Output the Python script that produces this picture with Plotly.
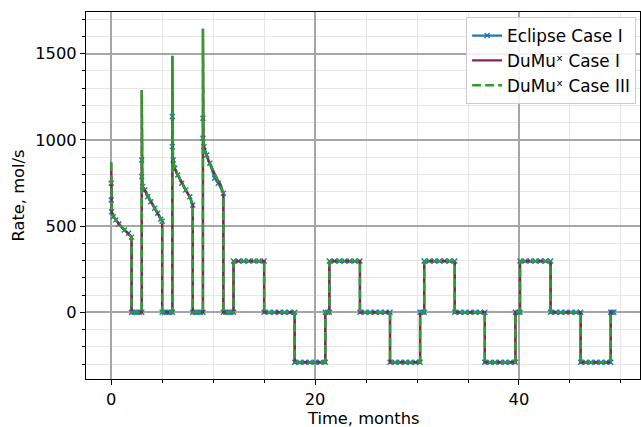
import plotly.graph_objects as go

# ---- DuMux (Case I & III) injection cycles: time [months], rate [mol/s]
cyc1_t = [0.0, 0.01, 0.03, 0.06, 0.15, 0.34, 0.6, 0.83, 1.2, 1.5, 1.75, 2.0]
cyc1_v = [870, 750, 640, 583, 565, 545, 525, 506, 486, 467, 450, 436]
cyc2_t = [3.0, 3.01, 3.03, 3.06, 3.1, 3.29, 3.58, 3.88, 4.27, 4.56, 4.86, 5.0]
cyc2_v = [1290, 1000, 820, 745, 729, 709, 670, 641, 603, 574, 540, 528]
cyc3_t = [6.0, 6.01, 6.03, 6.06, 6.1, 6.23, 6.53, 6.92, 7.31, 7.71, 8.0]
cyc3_v = [1488, 1150, 950, 890, 875, 835, 797, 748, 709, 670, 622]
cyc4_t = [9.0, 9.01, 9.03, 9.06, 9.1, 9.18, 9.37, 9.67, 10.06, 10.35, 10.75, 11.0]
cyc4_v = [1645, 1250, 1020, 975, 960, 940, 903, 864, 816, 777, 738, 685]

# ---- schedule after injection: switch times and the rate held in each interval
sched_t = [12, 15, 18, 21, 21.4, 24.4, 27.35, 30.3, 30.7, 33.7, 36.65, 39.65,
           40.1, 43.1, 46.05, 49.0, 49.3]
sched_v = [297, 0, -290, 0, 297, 0, -290, 0, 297, 0, -290, 0, 297, 0, -290, 0]

# ---- Eclipse report points (markers)
ecl_c1_t = [0.0, 0.0, 0.04, 0.2, 0.45, 0.75, 1.3, 1.7, 2.0]
ecl_c1_v = [748, 651, 583, 554, 535, 512, 477, 458, 436]
ecl_c2_t = [3.0, 3.0, 3.09, 3.29, 3.58, 3.88, 4.27, 4.56, 4.86, 5.0]
ecl_c2_v = [884, 787, 729, 709, 670, 641, 603, 574, 540, 528]
ecl_c3_t = [6.0, 6.0, 6.08, 6.23, 6.53, 6.92, 7.31, 7.71, 8.0]
ecl_c3_v = [1136, 961, 884, 835, 797, 748, 709, 670, 622]
ecl_c4_t = [9.0, 9.0, 9.1, 9.37, 9.67, 10.15, 10.5, 11.0]
ecl_c4_v = [1126, 1009, 960, 913, 864, 777, 748, 690]
ecl_pause_t = [[2.0, 2.25, 2.5, 2.75, 3.0], [5.0, 5.25, 5.5, 5.75, 6.0],
               [8.0, 8.25, 8.5, 8.75, 9.0], [11.0, 11.25, 11.5, 11.75, 12.0]]
ecl_flat_t = [
    [12, 12.5, 13, 13.5, 14, 14.5, 15],
    [15, 15.5, 16, 16.5, 17, 17.5, 18],
    [18, 18.5, 19, 19.5, 20, 20.5, 21],
    [21, 21.2, 21.4],
    [21.4, 21.9, 22.4, 22.9, 23.4, 23.9, 24.4],
    [24.4, 24.9, 25.4, 25.9, 26.4, 26.9, 27.35],
    [27.35, 27.85, 28.35, 28.85, 29.35, 29.85, 30.3],
    [30.3, 30.5, 30.7],
    [30.7, 31.2, 31.7, 32.2, 32.7, 33.2, 33.7],
    [33.7, 34.2, 34.7, 35.2, 35.7, 36.2, 36.65],
    [36.65, 37.15, 37.65, 38.15, 38.65, 39.15, 39.65],
    [39.65, 39.9, 40.1],
    [40.1, 40.6, 41.1, 41.6, 42.1, 42.6, 43.1],
    [43.1, 43.6, 44.1, 44.6, 45.1, 45.6, 46.05],
    [46.05, 46.55, 47.05, 47.55, 48.05, 48.55, 49.0],
    [49.0, 49.15, 49.3],
]

x_ticks = [0, 20, 40]
y_ticks = [0, 500, 1000, 1500]

# ---- assemble DuMux step series (each injection ends, pauses at zero, restarts)
cycles = [(cyc1_t, cyc1_v), (cyc2_t, cyc2_v), (cyc3_t, cyc3_v), (cyc4_t, cyc4_v)]
restarts = [cyc2_t[0], cyc3_t[0], cyc4_t[0], sched_t[0]]
dumu_t, dumu_v = [], []
for (ct, cv), nxt in zip(cycles, restarts):
    dumu_t += ct + [ct[-1], nxt]
    dumu_v += cv + [0, 0]
for i, v in enumerate(sched_v):
    dumu_t += [sched_t[i], sched_t[i + 1]]
    dumu_v += [v, v]

# ---- assemble Eclipse series
ecl_t, ecl_v = [], []
for (ct, cv), pt in zip([(ecl_c1_t, ecl_c1_v), (ecl_c2_t, ecl_c2_v),
                         (ecl_c3_t, ecl_c3_v), (ecl_c4_t, ecl_c4_v)], ecl_pause_t):
    ecl_t += ct + pt
    ecl_v += cv + [0] * len(pt)
for seg, v in zip(ecl_flat_t, sched_v):
    ecl_t += seg
    ecl_v += [v] * len(seg)

FONT = "DejaVu Sans"
FS = 16.3
LFS = 16.8
fig = go.Figure()
fig.add_trace(go.Scatter(
    x=ecl_t, y=ecl_v, mode="lines+markers", name="Eclipse Case I",
    line=dict(color="#1f77b4", width=2.2),
    marker=dict(symbol="x-thin", size=5, line=dict(width=1.4, color="#1f77b4")),
    legendgroup="a"))
fig.add_trace(go.Scatter(
    x=dumu_t, y=dumu_v, mode="lines", name="DuMuˣ Case I",
    line=dict(color="#8b2252", width=2.4), legendgroup="b"))
fig.add_trace(go.Scatter(
    x=dumu_t, y=dumu_v, mode="lines", name="DuMuˣ Case III",
    line=dict(color="#2ca02c", width=2.4, dash="9px,4px"), legendgroup="c"))

axis_common = dict(
    showline=True, linecolor="black", linewidth=1.2, mirror=True,
    ticks="outside", ticklen=5, tickwidth=1.2, tickcolor="black",
    showgrid=True, gridcolor="#a6a6a6", gridwidth=1.5, zeroline=False,
    automargin=False,
    tickfont=dict(family=FONT, size=FS, color="black"),
)
fig.update_xaxes(
    **axis_common, range=[-2.47, 51.87], tickvals=x_ticks,
    minor=dict(dtick=5, tick0=0, ticks="outside", ticklen=3, tickcolor="black",
               showgrid=True, gridcolor="#e6e6e6", gridwidth=1))
fig.update_yaxes(
    **axis_common, range=[-387, 1742], tickvals=y_ticks,
    minor=dict(dtick=100, tick0=0, ticks="outside", ticklen=3, tickcolor="black",
               showgrid=True, gridcolor="#e6e6e6", gridwidth=1))

fig.update_layout(
    width=641, height=427, margin=dict(l=86, r=1, t=12, b=48, autoexpand=False),
    plot_bgcolor="white", paper_bgcolor="white",
    font=dict(family=FONT, size=FS, color="black"),
    legend=dict(x=0.993, y=0.986, xanchor="right", yanchor="top",
                bgcolor="rgba(255,255,255,0.85)", bordercolor="#cccccc", borderwidth=1,
                font=dict(family=FONT, size=LFS, color="black"),
                tracegroupgap=6, traceorder="normal"),
    showlegend=True,
    annotations=[
        dict(text="Time, months", xref="paper", yref="paper", x=0.5, y=0,
             yshift=-39, showarrow=False, xanchor="center", yanchor="middle",
             font=dict(family=FONT, size=FS, color="black")),
        dict(text="Rate, mol/s", xref="paper", yref="paper", x=0, y=0.5,
             xshift=-68, showarrow=False, textangle=-90, xanchor="center",
             yanchor="middle", font=dict(family=FONT, size=FS, color="black")),
    ],
)

fig.write_html(
    "out.html",
    config={"displayModeBar": False},
    post_script="document.body.style.margin='0';document.body.style.padding='0';"
                "document.body.style.overflow='hidden';"
                "document.documentElement.style.overflow='hidden';",
)
